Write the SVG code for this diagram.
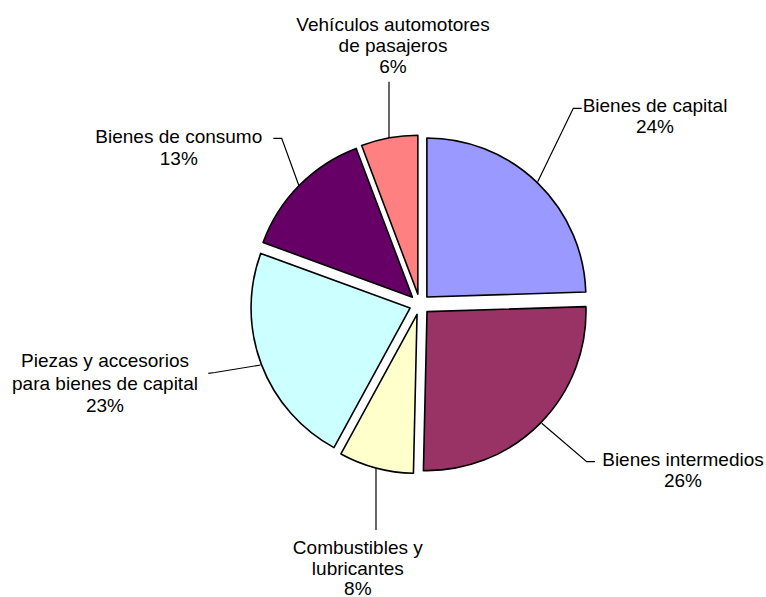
<svg xmlns="http://www.w3.org/2000/svg" width="766" height="597" viewBox="0 0 766 597">
<style>
.s{stroke:#000;stroke-width:1.6;stroke-linejoin:round}
.t{font-family:"Liberation Sans",Arial,sans-serif;font-size:19px;fill:#000;text-anchor:middle}
.l{fill:none;stroke:#000;stroke-width:1.2}
</style>
<rect width="766" height="597" fill="#fff"/>
<g id="slices">
<g id="capital"><path class="s" fill="#9999FF" d="M426.87 297 L426.87 138 A159 159 0 0 1 585.79 292.01 Z"/></g>
<g id="intermedios"><path class="s" fill="#993366" d="M427.01 311.65 L585.93 306.66 A159 159 0 0 1 423.40 470.61 Z"/></g>
<g id="combustibles"><path class="s" fill="#FFFFCC" d="M417.04 314.35 L413.43 473.31 A159 159 0 0 1 340.93 453.95 Z"/></g>
<g id="piezas"><path class="s" fill="#CCFFFF" d="M410.06 308.03 L333.95 447.63 A159 159 0 0 1 260.74 253.38 Z"/></g>
<g id="consumo"><path class="s" fill="#660066" d="M412.38 297.15 L263.06 242.50 A159 159 0 0 1 356.17 148.42 Z"/></g>
<g id="vehiculos"><path class="s" fill="#FF8080" d="M417.85 294.27 L361.64 145.54 A159 159 0 0 1 417.85 135.27 Z"/></g>
</g>
<g id="connectors">
<polyline class="l" points="581.7,108.3 573.3,108.3 537.7,181.7"/>
<polyline class="l" points="595,461.7 586.7,461.7 541.7,423.3"/>
<polyline class="l" points="376,530 376,468.5"/>
<polyline class="l" points="208.3,373.3 215,372.5 260.5,365"/>
<polyline class="l" points="273.3,138.3 281.7,138.3 299.3,186.7"/>
<polyline class="l" points="389,81.7 389,138"/>
</g>
<g id="label-capital"><text class="t" x="655" y="112.3">Bienes de capital</text><text class="t" x="655" y="133.3">24%</text></g>
<g id="label-intermedios"><text class="t" x="683" y="465.7">Bienes intermedios</text><text class="t" x="683" y="487.3">26%</text></g>
<g id="label-combustibles"><text class="t" x="357.8" y="554">Combustibles y</text><text class="t" x="357.8" y="575">lubricantes</text><text class="t" x="357.8" y="594.5">8%</text></g>
<g id="label-piezas"><text class="t" x="105" y="367.3">Piezas y accesorios</text><text class="t" x="105" y="389.5">para bienes de capital</text><text class="t" x="105" y="411.7">23%</text></g>
<g id="label-consumo"><text class="t" x="178.8" y="143.3">Bienes de consumo</text><text class="t" x="178.8" y="165">13%</text></g>
<g id="label-vehiculos"><text class="t" x="393" y="30.7">Vehículos automotores</text><text class="t" x="393" y="51.7">de pasajeros</text><text class="t" x="393" y="73.3">6%</text></g>
</svg>
